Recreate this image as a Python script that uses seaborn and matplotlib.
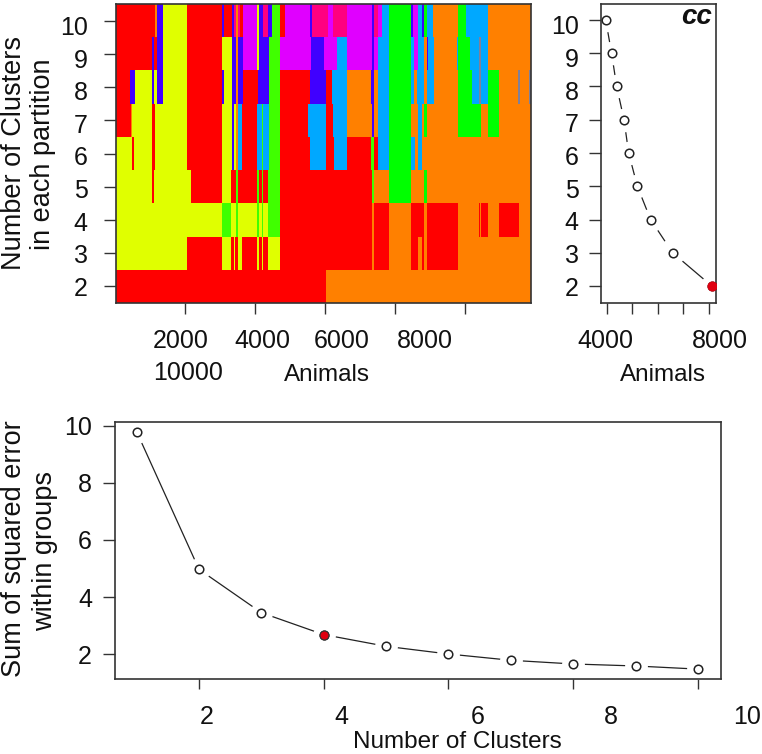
import numpy as np
import pandas as pd
import matplotlib
matplotlib.use('Agg')
import matplotlib.pyplot as plt
from matplotlib.colors import ListedColormap
from matplotlib.transforms import Affine2D
import seaborn as sns

# cluster colours
cluster_codes = "RYOGLBVMPS"
cluster_colors = ['#ff0000', '#e0ff00', '#ff8000', '#00ff00', '#40ff00',
                  '#00a8ff', '#4000ff', '#e000ff', '#ff0080', '#80809a']

ANIMAL_MIN = 30
ANIMAL_MAX = 11886

# each partition: last animal of every run, and the cluster of that run
row_2_ends = [6028, ANIMAL_MAX]
row_2_ids = "RO"
row_3_ends = [2067, 3047, 3314, 3381, 3428, 3524, 3638, 4067, 4124, 4200, 4238, 4371, 4714,
              7333, 7410, 7828, 8448, 8667, 8762, 8838, 8905, 9809, ANIMAL_MAX]
row_3_ids = "YRYRYRYRYRYRYRORORORORO"
row_4_ends = [3047, 3314, 3457, 3514, 4067, 4124, 4200, 4238, 4371, 4714, 7333, 7410, 7828,
              8448, 8838, 8905, 9809, 10381, 10428, 10457, 10648, 10971, 11552, ANIMAL_MAX]
row_4_ids = "YLYLYLYLYLRORORORORORORO"
row_5_ends = [1047, 1124, 2162, 3047, 3314, 3457, 3514, 4067, 4124, 4200, 4238, 4371, 4714,
              7333, 7410, 7828, 8448, 8838, 8905, ANIMAL_MAX]
row_5_ids = "YRYRYRLRLRLRLRLOGOGO"
row_6_ends = [495, 543, 1066, 1143, 2067, 3047, 3333, 3400, 3457, 3514, 3638, 4067, 4200, 4238,
              4390, 4714, 5571, 6028, 6257, 6638, 7305, 7410, 7524, 7828, 8448, 8571, 8667,
              8762, ANIMAL_MAX]
row_6_ids = "YRYRYRYVYOBRBLBLRBRBRLRBGBOBO"
row_7_ends = [447, 495, 1066, 1143, 2067, 3047, 3333, 3400, 3457, 3514, 3638, 4067, 4200, 4238,
              4390, 4714, 5524, 6028, 6219, 6638, 7333, 7410, 7524, 7828, 8448, 8667, 8762,
              8838, 8924, 9809, 10448, 10648, 10971, ANIMAL_MAX]
row_7_ids = "ROYRYRYVYOBRBLBLRBRBOVOBGOBOGOGOGO"
row_8_ends = [428, 571, 1066, 1124, 1190, 1362, 2067, 3047, 3114, 3333, 3457, 3514, 3667, 4095,
              4390, 4714, 5571, 6028, 6190, 6638, 7305, 7410, 7524, 7828, 8448, 8543, 8638,
              8828, 8924, 9114, 9809, 10190, 10381, 10448, 10648, 10971, 11524, 11571, 11828,
              ANIMAL_MAX]
row_8_ids = "RVYVYVYRVYVOVRVLRVRBOVOBGBOBOBOGBSBGOSOS"
row_9_ends = [1066, 1124, 1190, 1362, 2067, 3047, 3333, 3457, 3514, 3667, 4067, 4105, 4390, 4714,
              5600, 5971, 6352, 6638, 7333, 7410, 7524, 7828, 8448, 8543, 8667, 8828, 8905,
              8943, 9114, 9762, 9809, 10143, 10381, 10448, 10648, ANIMAL_MAX]
row_9_ids = "RVRVYRYVOVMYVLMVMBMVMBGBMBOVBOBGBSBO"
row_10_ends = [1143, 1190, 1362, 2067, 3047, 3114, 3333, 3400, 3457, 3514, 3571, 3667, 4067, 4105,
               4238, 4371, 4476, 4714, 4857, 5571, 5628, 6086, 6219, 6638, 7333, 7410, 7524,
               7619, 7828, 8448, 8524, 8667, 8762, 8828, 8924, 9076, 9809, 10028, 10648, ANIMAL_MAX]
row_10_ids = "ROVYRVRVPOPRMYVPVLRMVPMPMVPMBGVMBVGBOGBO"

row_ends = [row_10_ends, row_9_ends, row_8_ends, row_7_ends, row_6_ends,
            row_5_ends, row_4_ends, row_3_ends, row_2_ends]
row_ids = [row_10_ids, row_9_ids, row_8_ids, row_7_ids, row_6_ids,
           row_5_ids, row_4_ids, row_3_ids, row_2_ids]
n_clusters_top_down = [10, 9, 8, 7, 6, 5, 4, 3, 2]

# cc panel
cc_animals = [3950, 4180, 4380, 4667, 4850, 5190, 5710, 6575, 8110]
cc_clusters = [10, 9, 8, 7, 6, 5, 4, 3, 2]

# scree panel
sse_clusters = [1, 2, 3, 4, 5, 6, 7, 8, 9, 10]
sse_values = [9.8, 4.97, 3.45, 2.68, 2.27, 2.0, 1.78, 1.65, 1.58, 1.47]

sns.set_style('ticks')
plt.rcParams['font.family'] = ['Liberation Sans', 'DejaVu Sans']
plt.rcParams['axes.edgecolor'] = '#333333'
plt.rcParams['axes.linewidth'] = 1.2

W, H = 762, 754
fig = plt.figure(figsize=(W / 100, H / 100), dpi=100)


def panel(x0, y0, x1, y1):
    return fig.add_axes([x0 / W, 1 - y1 / H, (x1 - x0) / W, (y1 - y0) / H])


def label_at(x, y, s, **kw):
    kw.setdefault('fontsize', 17.5)
    fig.text(x / W, 1 - y / H, s, ha='center', va='center', color='#111111', **kw)


def shift_labels(labels, dx, dy):
    # the labels of the original sit off their ticks, offsets in pixels
    for lab, a, b in zip(labels, dx, dy):
        lab.set_transform(lab.get_transform() + Affine2D().translate(a, b))


def b_line(ax, x, y, red_index, ls='-', halo=270, red_edge=None):
    # R type="b": line broken around every point
    sns.lineplot(x=x, y=y, ax=ax, sort=False, estimator=None, color='#222222',
                 linewidth=0.9, linestyle=ls, zorder=1.5, legend=False)
    sns.scatterplot(x=x, y=y, ax=ax, s=halo, color='white', linewidth=0, zorder=1.8, legend=False)
    sns.scatterplot(x=x, y=y, ax=ax, s=38, color='white', edgecolor='#222222',
                    linewidth=1.1, zorder=3, legend=False)
    sns.scatterplot(x=[x[red_index]], y=[y[red_index]], ax=ax, s=42, color='#e00010',
                    edgecolor=red_edge if red_edge else '#e00010', linewidth=0.8, zorder=4, legend=False)


# ---- partition heatmap ----
animals = np.arange(ANIMAL_MIN, ANIMAL_MAX, 10)
matrix = []
for ends, ids in zip(row_ends, row_ids):
    assert len(ends) == len(ids)
    idx = np.searchsorted(ends, animals, side='right')
    idx = np.clip(idx, 0, len(ids) - 1)
    matrix.append([cluster_codes.index(ids[i]) for i in idx])
df = pd.DataFrame(matrix, index=n_clusters_top_down, columns=animals)

tick_kw = dict(width=1.0, color='#333333', labelsize=18, labelcolor='#111111')

ax1 = panel(116, 4, 531, 303)
sns.heatmap(df, ax=ax1, cmap=ListedColormap(cluster_colors), vmin=-0.5, vmax=9.5, cbar=False,
            xticklabels=False, yticklabels=False, rasterized=True)
for sp in ax1.spines.values():
    sp.set_visible(True)
    sp.set_color('#333333')
    sp.set_linewidth(1.2)
x_tick_animals = [2000, 4000, 6000, 8000, 10000]
ax1.set_xticks([(a - ANIMAL_MIN) / 10 for a in x_tick_animals])
ax1.set_xticklabels(['2000', '4000', '6000', '8000', '10000'])
ax1.set_yticks(np.arange(len(n_clusters_top_down)) + 0.5)
ax1.set_yticklabels(n_clusters_top_down, rotation=0)
ax1.set_xlabel('')
ax1.set_ylabel('')
ax1.tick_params(axis='x', length=8, pad=11, **tick_kw)
ax1.tick_params(axis='y', length=8.5, pad=12, **tick_kw)
shift_labels(ax1.get_xticklabels(), [-4, 7, 17, 30, -277], [0, 0, 0, 0, -32])
shift_labels(ax1.get_yticklabels(), [0] * 9, [-(v - 2) * 0.6 for v in n_clusters_top_down])

# ---- cc panel ----
ax2 = panel(601, 4, 716, 303)
# long dash, the only break that shows falls between 4 and 3
b_line(ax2, cc_animals, cc_clusters, 8, ls=(0, (185, 3.5)), halo=290)
ax2.set_xlim(3765, 8275)
ax2.set_ylim(1.49, 10.48)
ax2.set_xticks([4000, 5000, 6000, 7000, 8000])
ax2.set_xticklabels(['4000', '', '', '', '8000'])
ax2.set_yticks(cc_clusters)
ax2.set_xlabel('')
ax2.set_ylabel('')
ax2.tick_params(axis='x', length=8, pad=11, **tick_kw)
ax2.tick_params(axis='y', length=8.5, pad=7.5, **tick_kw)
shift_labels(ax2.get_xticklabels(), [-2, 0, 0, 0, 11], [0] * 5)
shift_labels(ax2.get_yticklabels(), [0] * 9, [-(v - 2) * 0.6 for v in cc_clusters])
ax2.text(0.83, 0.955, 'cc', transform=ax2.transAxes, ha='center', va='center', fontsize=20,
         fontweight='bold', fontstyle='italic', color='#111111')

# ---- scree panel ----
ax3 = panel(115, 422, 721, 679)
b_line(ax3, sse_clusters, sse_values, 3, red_edge='#333333')
ax3.set_xlim(0.653, 10.37)
ax3.set_ylim(1.123, 10.14)
ax3.set_xticks([2, 4, 6, 8, 10])
ax3.set_yticks([2, 4, 6, 8, 10])
ax3.set_xlabel('')
ax3.set_ylabel('')
ax3.tick_params(axis='x', length=7.5, pad=11, **tick_kw)
ax3.tick_params(axis='y', length=8.5, pad=8, **tick_kw)
shift_labels(ax3.get_xticklabels(), [8, 18, 29, 38, 49], [0] * 5)

# axis titles
label_at(327, 375, 'Animals')
label_at(663, 375, 'Animals')
label_at(457, 742, 'Number of Clusters')
label_at(14, 153, 'Number of Clusters', rotation=90, fontsize=19.5)
label_at(43, 154, 'in each partition', rotation=90, fontsize=19.5)
label_at(14, 549, 'Sum of squared error', rotation=90, fontsize=19.5)
label_at(45, 551, 'within groups', rotation=90, fontsize=19.5)

plt.savefig('out.png', dpi=100)
plt.close()
